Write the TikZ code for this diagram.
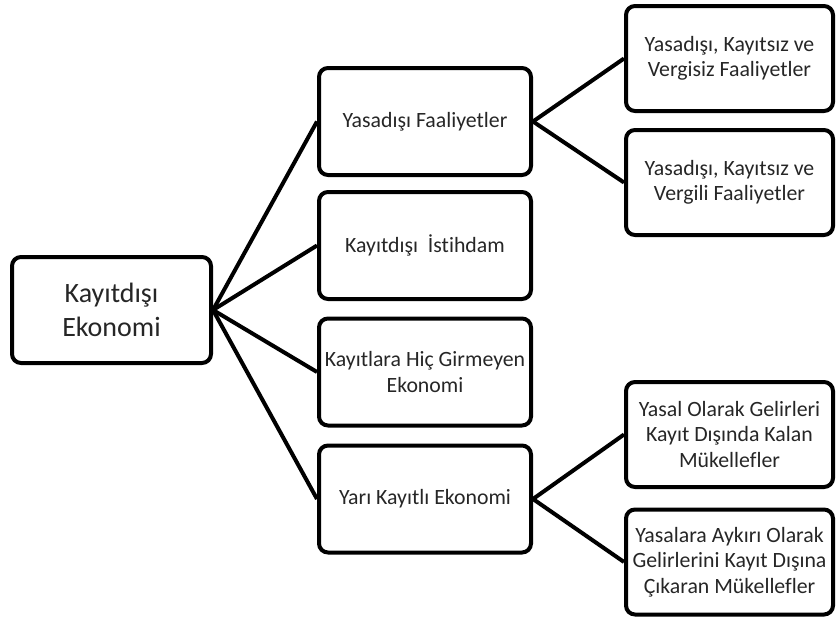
\documentclass[tikz,border=0pt]{standalone}
\usepackage{fontspec}
\setmainfont{Carlito}[Ligatures=NoCommon]
\usetikzlibrary{calc, shapes, positioning}

\begin{document}
\begin{tikzpicture}[x=1pt, y=-1pt,
	box/.style={draw=black, line width=4pt, rounded corners=9pt, align=center, text=black!85, inner sep=2pt},
	link/.style={line width=4pt, draw=black}]
	\useasboundingbox (0,0) rectangle (837,621);
	\node[box, minimum width=199pt, minimum height=106pt, font=\fontsize{28}{34}\selectfont] (0) at (111.5,310) {Kayıtdışı\\Ekonomi};
	\foreach \y/\index/\txt in {121.5/1/{Yasadışı Faaliyetler}, 245.5/2/{Kayıtdışı\ \ İstihdam}, 372/3/{Kayıtlara Hiç Girmeyen\\Ekonomi}, 499/4/{Yarı Kayıtlı Ekonomi}}{
		\node[box, minimum width=212pt, minimum height=107pt, font=\fontsize{21.8}{25.5}\selectfont] (\index) at (425,\y) {\txt};
		\draw[link] (0.east) to (\index.west);
	};
	\foreach \y/\index/\from/\txt in {58.5/5/1/{Yasadışı, Kayıtsız ve\\Vergisiz Faaliyetler}, 182.5/6/1/{Yasadışı, Kayıtsız ve\\Vergili Faaliyetler}, 434.5/7/4/{Yasal Olarak Gelirleri\\Kayıt Dışında Kalan\\Mükellefler}, 562/8/4/{Yasalara Aykırı Olarak\\Gelirlerini Kayıt Dışına\\Çıkaran Mükellefler}}{
		\node[box, minimum width=207pt, minimum height=105pt, font=\fontsize{21.8}{25.5}\selectfont] (\index) at (729.5,\y) {\txt};
		\draw[link] (\from.east) to (\index.west);
	};
\end{tikzpicture}
\end{document}
